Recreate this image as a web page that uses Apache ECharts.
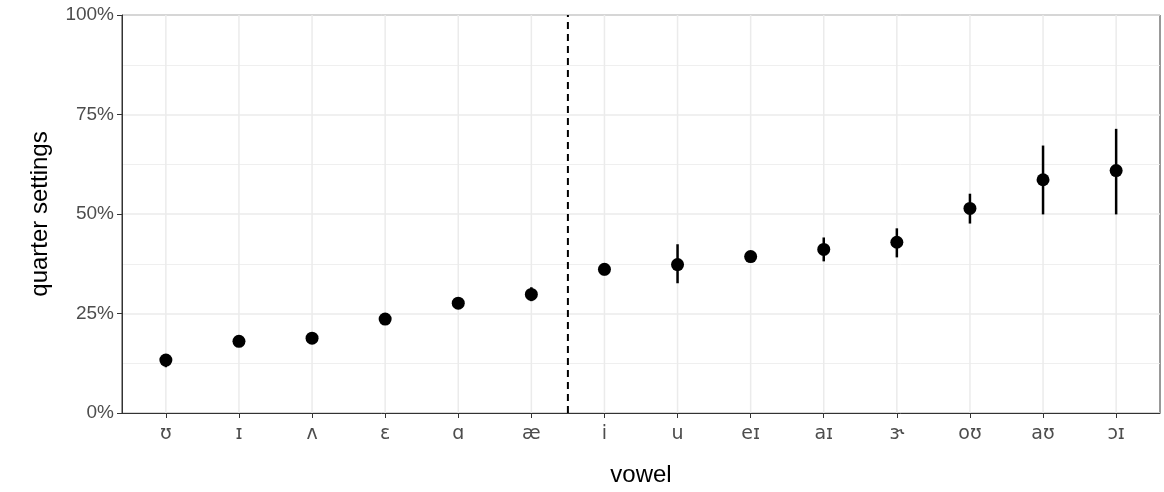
<!DOCTYPE html>
<html><head><meta charset="utf-8">
<script src="https://cdn.jsdelivr.net/npm/echarts@6/dist/echarts.min.js"></script>
<style>html,body{margin:0;padding:0;background:#fff}#c{width:1164px;height:492px}</style>
</head><body><div id="c"></div>
<script>
const vowels = ['ʊ','ɪ','ʌ','ɛ','ɑ','æ','i','u','eɪ','aɪ','ɝ','oʊ','aʊ','ɔɪ'];
const means = [13.3,18.0,18.8,23.6,27.6,29.8,36.1,37.3,39.3,41.1,42.9,51.4,58.6,60.9];
const lows  = [11.5,17.3,18.1,22.9,26.9,28.1,34.6,32.6,38.6,38.1,39.1,47.6,49.9,49.9];
const highs = [14.8,18.7,19.5,24.3,28.3,31.6,37.3,42.4,40.0,44.1,46.4,55.1,67.2,71.4];
const yTicks = [0,25,50,75,100];

const idx = vowels.map((v,i)=>i);
const chart = echarts.init(document.getElementById('c'));
const grid = '#ebebeb';
chart.setOption({
  animation:false,
  grid:{left:122,right:4,top:15,bottom:78,show:true,borderColor:'#333',borderWidth:1},
  xAxis:{type:'value',min:-0.6,max:vowels.length-0.4,name:'vowel',nameLocation:'middle',nameGap:50,
    nameTextStyle:{fontSize:24,color:'#000',fontFamily:'Liberation Sans'},
    axisLine:{onZero:false,lineStyle:{color:'#333'}},axisTick:{show:true,customValues:idx,length:5,lineStyle:{color:'#333'}},
    axisLabel:{customValues:idx,formatter:v=>vowels[Math.round(v)],fontSize:19,color:'#4d4d4d',margin:12,fontFamily:'DejaVu Sans'},
    splitLine:{show:false}},
  yAxis:{type:'value',min:0,max:100,interval:25,name:'quarter settings',nameLocation:'middle',nameGap:70,
    nameTextStyle:{fontSize:24,color:'#000',fontFamily:'Liberation Sans'},
    axisLine:{show:true,onZero:false,lineStyle:{color:'#333'}},axisTick:{show:true,length:5,lineStyle:{color:'#333'}},
    axisLabel:{fontSize:19,color:'#4d4d4d',formatter:v=>yTicks.includes(v)?v+'%':'',fontFamily:'Liberation Sans'},
    splitLine:{lineStyle:{color:grid,width:1.5}},
    minorTick:{show:false,splitNumber:2},minorSplitLine:{show:true,lineStyle:{color:grid,width:0.8}}},
  series:[
    {type:'custom',z:1,silent:true,data:idx.map(i=>[i]),
     renderItem:(p,api)=>{const a=api.coord([api.value(0),0]),b=api.coord([api.value(0),100]);
       return {type:'line',shape:{x1:a[0],y1:a[1],x2:b[0],y2:b[1]},style:{stroke:grid,lineWidth:1.5}};}},
    {type:'custom',z:3,silent:true,data:[[5.5]],
     renderItem:(p,api)=>{const a=api.coord([api.value(0),0]),b=api.coord([api.value(0),100]);
       return {type:'line',shape:{x1:a[0],y1:a[1],x2:b[0],y2:b[1]},style:{stroke:'#000',lineWidth:2,lineDash:[7,5]}};}},
    {type:'custom',z:4,silent:true,data:idx.map(i=>[i,lows[i],highs[i]]),
     renderItem:(p,api)=>{const a=api.coord([api.value(0),api.value(1)]),b=api.coord([api.value(0),api.value(2)]);
       return {type:'line',shape:{x1:a[0],y1:a[1],x2:b[0],y2:b[1]},style:{stroke:'#000',lineWidth:2.5}};}},
    {type:'scatter',z:5,data:idx.map(i=>[i,means[i]]),symbolSize:13,itemStyle:{color:'#000',opacity:1}}
  ]
});
</script></body></html>
